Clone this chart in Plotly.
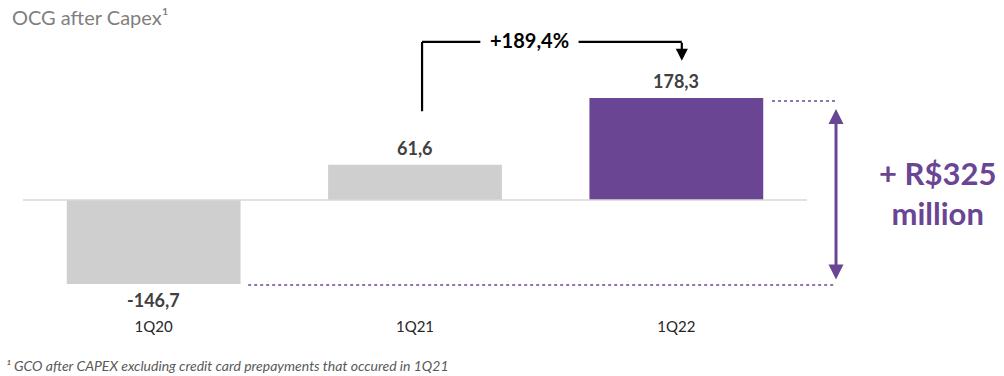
import plotly.graph_objects as go

# Quarterly operating cash generation after capex (R$ million)
quarters = ["1Q20", "1Q21", "1Q22"]
ocg_values = [-146.7, 61.6, 178.3]
bar_colors = ["#d0cfcf", "#d0cfcf", "#6a4594"]
growth_label = "+189,4%"
delta_label = "+ R$325<br>million"

PURPLE = "#6a4594"
FONT = "Lato"


def br_number(v):
    return f"{v:.1f}".replace(".", ",")


fig = go.Figure()
fig.add_trace(go.Bar(
    x=quarters,
    y=ocg_values,
    marker=dict(color=bar_colors, line=dict(width=0)),
    width=0.665,
    hoverinfo="skip",
))

# value labels above / below each bar
for q, v in zip(quarters, ocg_values):
    fig.add_annotation(
        x=q, y=v, xref="x", yref="y",
        text=f"<b>{br_number(v)}</b>",
        showarrow=False,
        yanchor="bottom" if v >= 0 else "top",
        yshift=4 if v >= 0 else -3,
        font=dict(family=FONT, size=18, color="#404040"),
    )

shapes = []
# zero baseline
shapes.append(dict(type="line", xref="x", yref="y", x0=-0.5, x1=2.5, y0=0, y1=0,
                   line=dict(color="#d9d9d9", width=1.5)))
# dotted guides at the extremes (extend into the right margin)
shapes.append(dict(type="line", xref="paper", yref="y", x0=0.9554, x1=1.0357, y0=173, y1=173,
                   line=dict(color=PURPLE, width=1.5, dash="dot")))
shapes.append(dict(type="line", xref="paper", yref="y", x0=0.2872, x1=1.0357, y0=-148.5, y1=-148.5,
                   line=dict(color=PURPLE, width=1.5, dash="dot")))
# growth bracket from 1Q21 to 1Q22
shapes.append(dict(type="line", xref="x", yref="y", x0=1.027, x1=1.027, y0=155, y1=276,
                   line=dict(color="#000000", width=2.2)))
shapes.append(dict(type="line", xref="x", yref="y", x0=1.027, x1=1.25, y0=276, y1=276,
                   line=dict(color="#000000", width=2.2)))
shapes.append(dict(type="line", xref="x", yref="y", x0=1.626, x1=2.021, y0=276, y1=276,
                   line=dict(color="#000000", width=2.2)))
fig.update_layout(shapes=shapes)

# downward arrow into 1Q22
fig.add_annotation(
    x=2.021, y=243, ax=2.021, ay=277, xref="x", yref="y", axref="x", ayref="y",
    text="", showarrow=True, arrowhead=2, arrowsize=1.1, arrowwidth=2.2, arrowcolor="#000000",
)
fig.add_annotation(
    x=1.438, y=279, xref="x", yref="y", text=f"<b>{growth_label}</b>", showarrow=False,
    xanchor="center", yanchor="middle",
    font=dict(family=FONT, size=20, color="#000000"),
)

# double-headed arrow spanning 1Q20 to 1Q22
fig.add_annotation(
    x=1.037, y=-139, xref="paper", yref="y", ax=0, ay=-172, axref="pixel", ayref="pixel",
    text="", showarrow=True, arrowhead=2, startarrowhead=2, arrowside="end+start",
    arrowsize=1.0, startarrowsize=1.0, arrowwidth=3, arrowcolor=PURPLE,
)
fig.add_annotation(
    x=1.167, y=12, xref="paper", yref="y", text=f"<b>{delta_label}</b>", showarrow=False,
    xanchor="center", yanchor="middle", align="center",
    font=dict(family=FONT, size=31, color=PURPLE),
)

# title and footnote
fig.add_annotation(
    x=-0.016, y=1.083, xref="paper", yref="paper", text="OCG after Capex¹", showarrow=False,
    xanchor="left", yanchor="middle",
    font=dict(family=FONT, size=20, color="#7f7f7f"),
)
fig.add_annotation(
    x=-0.024, y=-0.18, xref="paper", yref="paper",
    text="<i>¹ GCO after CAPEX excluding credit card prepayments that occured in 1Q21</i>",
    showarrow=False, xanchor="left", yanchor="middle",
    font=dict(family=FONT, size=14, color="#595959"),
)

fig.update_layout(
    width=1004, height=376,
    margin=dict(l=23, r=197, t=40, b=60),
    paper_bgcolor="white", plot_bgcolor="white",
    showlegend=False,
    xaxis=dict(
        range=[-0.5, 2.5], showgrid=False, zeroline=False, showline=False, ticks="",
        tickfont=dict(family=FONT, size=15, color="#262626"),
    ),
    yaxis=dict(
        range=[-202.6, 279.4], visible=False, showgrid=False, zeroline=False,
    ),
)

fig.write_html("out.html")
